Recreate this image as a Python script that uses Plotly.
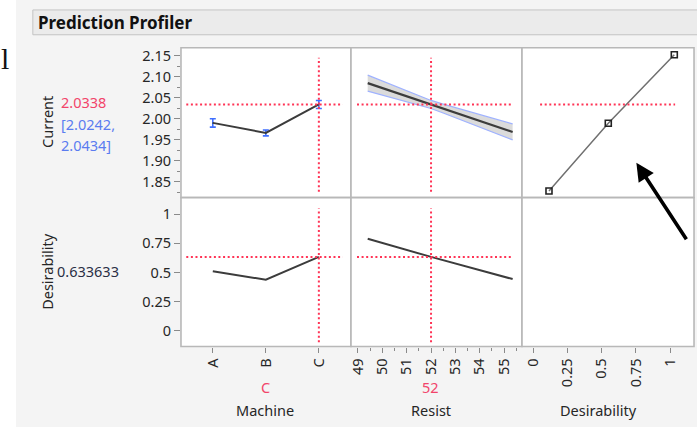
import plotly.graph_objects as go

# ---- profiler data -------------------------------------------------------
machines = ["A", "B", "C"]
current_by_machine = [1.990, 1.966, 2.0338]
current_err_by_machine = [0.010, 0.007, 0.0096]
desir_by_machine = [0.511, 0.437, 0.633633]

resist_grid = [49.4, 50.5, 51.5, 52.0, 52.5, 53.5, 54.5, 55.35]
current_by_resist = [2.0845, 2.0630, 2.0435, 2.0338, 2.0240, 2.0045, 1.9850, 1.9685]
current_upper = [2.1035, 2.0775, 2.0543, 2.0434, 2.0346, 2.0185, 2.0025, 1.9875]
current_lower = [2.0655, 2.0485, 2.0327, 2.0242, 2.0134, 1.9905, 1.9675, 1.9495]

desir_resist_x = [49.4, 52.0, 55.35]
desir_by_resist = [0.790, 0.633633, 0.443]

desir_fn_desirability = [0.115, 0.548, 1.03]
desir_fn_current = [1.828, 1.989, 2.152]

current_value = 2.0338
current_ci = [2.0242, 2.0434]
desirability_value = 0.633633
machine_setting = "C"
resist_setting = 52

current_ticks = [1.85, 1.90, 1.95, 2.00, 2.05, 2.10, 2.15]
desir_ticks = [0, 0.25, 0.5, 0.75, 1]
desir_tick_text = ["0", "0.25", "0.5", "0.75", "1"]
resist_ticks = [49, 50, 51, 52, 53, 54, 55]

# ---- geometry helpers ----------------------------------------------------
W, H = 697, 427


def px(x):
    return x / W


def py(y):
    return 1 - y / H


cols = [(178, 349), (349, 521), (521, 694)]
rows = [(45, 196), (196, 346)]

FONT = "Noto Sans"
TXT = "#262626"
RED = "#ff3355"
RED_TXT = "#f2446a"
BLUE_TXT = "#5b7cf0"
LINE = "#3c3c3c"
TICK = "#8a8a8a"
DOT = "2px,2.6px"
FS = 14.5

fig = go.Figure()

# top-left: Current by Machine with error bars
fig.add_trace(go.Scatter(
    x=machines, y=current_by_machine, mode="lines+markers",
    line=dict(color=LINE, width=2), marker=dict(size=1, color=LINE),
    error_y=dict(type="data", array=current_err_by_machine, color="#3f6fff",
                 thickness=1.6, width=3),
    xaxis="x", yaxis="y", showlegend=False, hoverinfo="skip"))

# top-middle: Current by Resist with confidence band
fig.add_trace(go.Scatter(
    x=resist_grid, y=current_lower, mode="lines",
    line=dict(color="#9fb2ff", width=1.2),
    xaxis="x2", yaxis="y2", showlegend=False, hoverinfo="skip"))
fig.add_trace(go.Scatter(
    x=resist_grid, y=current_upper, mode="lines", fill="tonexty",
    fillcolor="rgba(190,190,190,0.55)",
    line=dict(color="#9fb2ff", width=1.2),
    xaxis="x2", yaxis="y2", showlegend=False, hoverinfo="skip"))
fig.add_trace(go.Scatter(
    x=resist_grid, y=current_by_resist, mode="lines",
    line=dict(color=LINE, width=2.2),
    xaxis="x2", yaxis="y2", showlegend=False, hoverinfo="skip"))

# top-right: desirability function
fig.add_trace(go.Scatter(
    x=desir_fn_desirability, y=desir_fn_current, mode="lines+markers",
    line=dict(color="#707070", width=1.5),
    marker=dict(symbol="square-open", size=6, color="#222222",
                line=dict(width=1.6, color="#222222")),
    xaxis="x3", yaxis="y3", showlegend=False, hoverinfo="skip"))

# bottom-left: Desirability by Machine
fig.add_trace(go.Scatter(
    x=machines, y=desir_by_machine, mode="lines",
    line=dict(color=LINE, width=2),
    xaxis="x4", yaxis="y4", showlegend=False, hoverinfo="skip"))

# bottom-middle: Desirability by Resist
fig.add_trace(go.Scatter(
    x=desir_resist_x, y=desir_by_resist, mode="lines",
    line=dict(color=LINE, width=2),
    xaxis="x5", yaxis="y5", showlegend=False, hoverinfo="skip"))

# bottom-right is empty; an invisible trace keeps its axis drawn
fig.add_trace(go.Scatter(
    x=[None], y=[None], mode="markers", marker=dict(opacity=0),
    xaxis="x6", yaxis="y6", showlegend=False, hoverinfo="skip"))

# ---- axes ------------------------------------------------------------------
top_range = [1.8122, 2.1689]
bot_range = [-0.1364, 1.1424]
mach_range = [-0.600, 2.606]
res_range = [48.714, 55.735]
des_range = [-0.082, 1.174]

tickfont = dict(family=FONT, size=FS, color=TXT)
hidden = dict(showticklabels=False, ticks="", showgrid=False, zeroline=False,
              showline=False, fixedrange=True)

layout_axes = {}
x_ranges = [mach_range, res_range, des_range]
for i in range(3):
    top_x = "xaxis" if i == 0 else f"xaxis{i + 1}"
    bot_x = f"xaxis{i + 4}"
    top_y = "yaxis" if i == 0 else f"yaxis{i + 1}"
    bot_y = f"yaxis{i + 4}"
    dom_x = [px(cols[i][0]), px(cols[i][1])]
    ax_top = dict(hidden, domain=dom_x, range=x_ranges[i],
                  anchor="y" if i == 0 else f"y{i + 1}")
    ax_bot = dict(domain=dom_x, range=x_ranges[i], anchor=f"y{i + 4}",
                  showgrid=False, zeroline=False, showline=False,
                  ticks="outside", ticklen=5, tickwidth=1, tickcolor=TICK,
                  tickangle=-90, tickfont=tickfont, fixedrange=True)
    if i == 0:
        ax_top.update(type="category", categoryorder="array", categoryarray=machines)
        ax_bot.update(type="category", categoryorder="array", categoryarray=machines)
    elif i == 1:
        ax_bot.update(tickvals=resist_ticks,
                      minor=dict(dtick=0.5, tick0=49, ticks="outside",
                                 ticklen=3, tickcolor=TICK))
    else:
        ax_bot.update(type="linear", tickvals=desir_ticks, ticktext=desir_tick_text)
    layout_axes[top_x] = ax_top
    layout_axes[bot_x] = ax_bot

    ay_top = dict(domain=[py(rows[0][1]), py(rows[0][0])], range=top_range,
                  anchor="x" if i == 0 else f"x{i + 1}",
                  showgrid=False, zeroline=False, showline=False, fixedrange=True)
    ay_bot = dict(domain=[py(rows[1][1]), py(rows[1][0])], range=bot_range,
                  anchor=f"x{i + 4}", type="linear",
                  showgrid=False, zeroline=False, showline=False, fixedrange=True)
    if i == 0:
        ay_top.update(ticks="outside", ticklen=6, tickcolor=TICK,
                      tickvals=current_ticks, tickformat=".2f", tickfont=tickfont,
                      minor=dict(dtick=0.025, tick0=1.85, ticks="outside",
                                 ticklen=3, tickcolor=TICK))
        ay_bot.update(ticks="outside", ticklen=6, tickcolor=TICK,
                      tickvals=desir_ticks, ticktext=desir_tick_text,
                      tickfont=tickfont)
    else:
        ay_top.update(showticklabels=False, ticks="")
        ay_bot.update(showticklabels=False, ticks="")
    layout_axes[top_y] = ay_top
    layout_axes[bot_y] = ay_bot

# ---- shapes ----------------------------------------------------------------
shapes = []
# gray workspace with white strip at the left edge
shapes.append(dict(type="rect", xref="paper", yref="paper", x0=px(12), x1=1.01,
                   y0=-0.01, y1=1.01, fillcolor="#f4f4f4",
                   line=dict(width=0), layer="below"))
# title bar
shapes.append(dict(type="rect", xref="paper", yref="paper", x0=px(29), x1=px(700),
                   y0=py(32), y1=py(7), fillcolor="#ebebeb",
                   line=dict(color="#c4c4c4", width=1), layer="below"))
# white panels with borders
for (c0, c1) in cols:
    for (r0, r1) in rows:
        shapes.append(dict(type="rect", xref="paper", yref="paper",
                           x0=px(c0), x1=px(c1), y0=py(r1), y1=py(r0),
                           fillcolor="white", line=dict(color="#b8b8b8", width=1.6),
                           layer="below"))

dotline = dict(color=RED, width=2, dash=DOT)
# crosshairs: current value
shapes.append(dict(type="line", xref="x", yref="y", x0=-0.5, x1=2.45,
                   y0=current_value, y1=current_value, line=dotline))
shapes.append(dict(type="line", xref="x2", yref="y2", x0=48.96, x1=55.35,
                   y0=current_value, y1=current_value, line=dotline))
shapes.append(dict(type="line", xref="x3", yref="y3", x0=0.05, x1=1.036,
                   y0=current_value, y1=current_value, line=dotline))
# crosshairs: desirability value
shapes.append(dict(type="line", xref="x4", yref="y4", x0=-0.5, x1=2.45,
                   y0=desirability_value, y1=desirability_value, line=dotline))
shapes.append(dict(type="line", xref="x5", yref="y5", x0=48.96, x1=55.35,
                   y0=desirability_value, y1=desirability_value, line=dotline))
# crosshairs: factor settings
shapes.append(dict(type="line", xref="x", yref="y", x0=machine_setting, x1=machine_setting,
                   y0=1.826, y1=2.145, line=dotline))
shapes.append(dict(type="line", xref="x4", yref="y4", x0=machine_setting, x1=machine_setting,
                   y0=-0.10, y1=1.05, line=dotline))
shapes.append(dict(type="line", xref="x2", yref="y2", x0=resist_setting, x1=resist_setting,
                   y0=1.826, y1=2.145, line=dotline))
shapes.append(dict(type="line", xref="x5", yref="y5", x0=resist_setting, x1=resist_setting,
                   y0=-0.10, y1=1.05, line=dotline))

# ---- annotations -----------------------------------------------------------
ann = []


def label(text, x, y, size=FS, color=TXT, xanchor="center", angle=0, bold=False, fam=FONT):
    ann.append(dict(text=f"<b>{text}</b>" if bold else text, x=px(x), y=py(y),
                    xref="paper", yref="paper", showarrow=False,
                    xanchor=xanchor, yanchor="middle", textangle=angle,
                    font=dict(family=fam, size=size, color=color)))


label("Prediction Profiler", 32, 19.5, size=17, color="#111111", xanchor="left", bold=True)
label("l", 7, 56, size=30, color="#111111", xanchor="right", fam="Liberation Serif")

label("Current", 43, 120, angle=-90)
label(f"{current_value:.4f}", 55, 100, color=RED_TXT, xanchor="left")
label(f"[{current_ci[0]:.4f},", 55, 122, color=BLUE_TXT, xanchor="left")
label(f"{current_ci[1]:.4f}]", 55, 143, color=BLUE_TXT, xanchor="left")

label("Desirability", 43, 270, angle=-90)
label(f"{desirability_value:.6f}", 51, 270, color="#2a2f45", xanchor="left")

label(machine_setting, 263, 387, color=RED_TXT)
label("Machine", 263, 410)
label(str(resist_setting), 429, 387, color=RED_TXT)
label("Resist", 429, 410)
label("Desirability", 598, 410)

# pointer arrow in the desirability column
ann.append(dict(x=0.753, y=1.895, xref="x3", yref="y3", text="",
                showarrow=True, arrowhead=2, arrowsize=1, arrowwidth=3.6,
                arrowcolor="#000000", axref="pixel", ayref="pixel", ax=51, ay=78))

fig.update_layout(
    width=W, height=H,
    margin=dict(l=0, r=0, t=0, b=0),
    paper_bgcolor="white", plot_bgcolor="rgba(0,0,0,0)",
    shapes=shapes, annotations=ann, showlegend=False,
    **layout_axes,
)

fig.write_html("out.html", config={"displayModeBar": False})
